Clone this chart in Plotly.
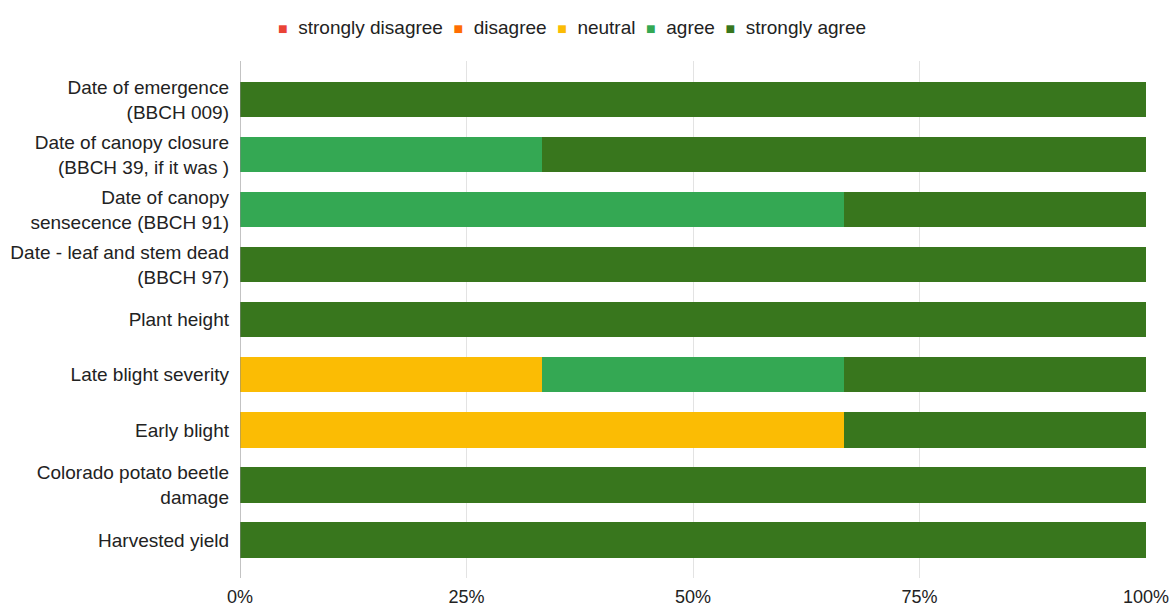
import plotly.graph_objects as go

categories = [
    "Date of emergence<br>(BBCH 009)",
    "Date of canopy closure<br>(BBCH 39, if it was )",
    "Date of canopy<br>sensecence (BBCH 91)",
    "Date - leaf and stem dead<br>(BBCH 97)",
    "Plant height",
    "Late blight severity",
    "Early blight",
    "Colorado potato beetle<br>damage",
    "Harvested yield",
]
series_names = ["strongly disagree", "disagree", "neutral", "agree", "strongly agree"]
strongly_disagree = [0, 0, 0, 0, 0, 0, 0, 0, 0]
disagree = [0, 0, 0, 0, 0, 0, 0, 0, 0]
neutral = [0, 0, 0, 0, 0, 1, 2, 0, 0]
agree = [0, 1, 2, 0, 0, 1, 0, 0, 0]
strongly_agree = [3, 2, 1, 3, 3, 1, 1, 3, 3]
colors = ["#ea4335", "#ff6d01", "#fbbc04", "#34a853", "#38761d"]
tick_vals = [0, 25, 50, 75, 100]
tick_text = ["0%", "25%", "50%", "75%", "100%"]

FONT = "Liberation Sans, Arial, sans-serif"
TXT = "#222222"

fig = go.Figure()
for name, vals, col in zip(series_names,
                           [strongly_disagree, disagree, neutral, agree, strongly_agree],
                           colors):
    fig.add_trace(go.Bar(y=categories, x=vals, name=name, orientation="h",
                         marker=dict(color=col, line=dict(width=0)),
                         showlegend=False))

# compact legend drawn as a single line of text
legend_parts = []
for name, col in zip(series_names, colors):
    legend_parts.append(
        f"<span style='color:{col};font-size:16px'>■</span>&nbsp;&nbsp;{name}")
legend_text = "&nbsp;&nbsp;".join(legend_parts)
fig.add_annotation(text=legend_text, xref="paper", yref="paper",
                   x=(572 - 240) / 906, y=1 + (61 - 27) / 517,
                   xanchor="center", yanchor="middle", showarrow=False,
                   font=dict(family=FONT, size=19, color=TXT))

fig.update_layout(
    barmode="stack",
    barnorm="percent",
    bargap=0.36,
    width=1173, height=608,
    margin=dict(l=240, r=27, t=61, b=30, autoexpand=False),
    paper_bgcolor="white", plot_bgcolor="white",
    font=dict(family=FONT, size=19, color=TXT),
    showlegend=False,
)
fig.update_xaxes(range=[0, 100], tickvals=tick_vals, ticktext=tick_text,
                 showgrid=True, gridcolor="#e3e3e3", gridwidth=1,
                 zeroline=False, showline=False, ticks="", ticklabelstandoff=6,
                 automargin=False,
                 tickfont=dict(family=FONT, size=18, color=TXT))
fig.update_yaxes(categoryorder="array", categoryarray=categories,
                 range=[8.69, -0.7], showgrid=False, zeroline=False,
                 showline=False, ticks="", ticklabelstandoff=10,
                 automargin=False,
                 tickfont=dict(family=FONT, size=19, color=TXT))
fig.add_shape(type="line", xref="x", yref="paper", x0=0, x1=0, y0=0, y1=1,
              line=dict(color="#888888", width=1))

fig.write_html("out.html",
               config={"displayModeBar": False},
               post_script="document.body.style.margin='0';document.body.style.overflow='hidden';")
